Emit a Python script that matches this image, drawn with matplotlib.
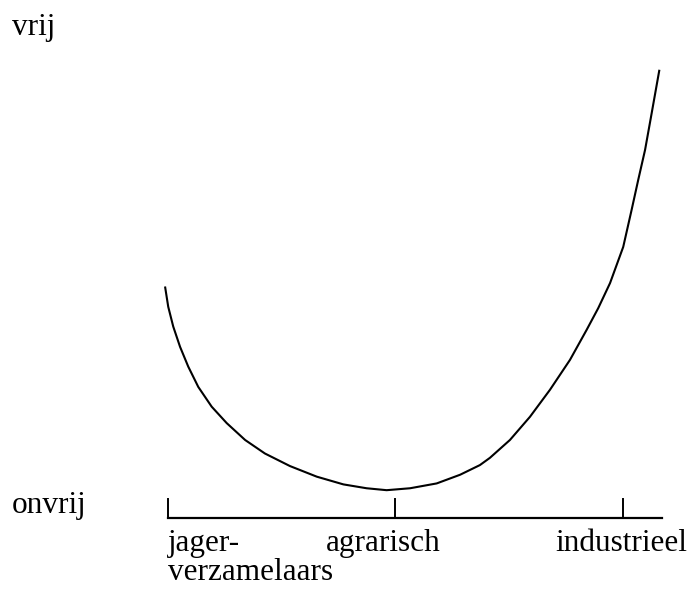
import matplotlib
matplotlib.use("Agg")
import matplotlib.pyplot as plt

# stages on the horizontal axis (0 = jager-verzamelaars, 1 = agrarisch, 2 = industrieel)
stage_pos = [0, 1, 2]
stage_labels = ["jager-\nverzamelaars", "agrarisch", "industrieel"]

# freedom curve (x in stage units, y: 0 = onvrij, 10 = vrij)
curve_x = [-0.013, 0.001, 0.023, 0.053, 0.089, 0.133, 0.192, 0.258, 0.339, 0.426,
           0.536, 0.654, 0.771, 0.873, 0.961, 1.064, 1.181, 1.284, 1.371, 1.415,
           1.503, 1.591, 1.679, 1.767, 1.840, 1.891, 1.943, 2.001, 2.038, 2.067,
           2.097, 2.126, 2.160]
curve_y = [4.79, 4.37, 3.96, 3.54, 3.13, 2.71, 2.30, 1.96, 1.61, 1.33,
           1.07, 0.85, 0.69, 0.61, 0.57, 0.61, 0.71, 0.89, 1.09, 1.24,
           1.61, 2.09, 2.65, 3.27, 3.89, 4.34, 4.86, 5.61, 6.38, 7.00,
           7.62, 8.38, 9.28]

plt.rcParams['font.family'] = ['Liberation Serif', 'DejaVu Serif']
fs = 22.5

fig = plt.figure(figsize=(6.95, 5.96), dpi=100)
ax = fig.add_axes([0, 0, 1, 1])
ax.set_xlim(-168 / 227.5, (695 - 168) / 227.5)
ax.set_ylim((517.7 - 596) / 48.27, 517.7 / 48.27)
ax.axis('off')

ax.plot(curve_x, curve_y, color='black', lw=1.5,
        solid_capstyle='butt', solid_joinstyle='round')

# axis line with ticks
ax.plot([0, 2.171], [0, 0], color='black', lw=1.6)
for p in stage_pos:
    ax.plot([p, p], [0, 0.387], color='black', lw=1.4)

ax.text(-0.686, 10.0, "vrij", fontsize=fs, va='baseline', ha='left')
ax.text(-0.686, 0.097, "onvrij", fontsize=fs, va='baseline', ha='left')

ax.text(0, -0.70, "jager-", fontsize=fs, va='baseline', ha='left')
ax.text(0, -1.29, "verzamelaars", fontsize=fs, va='baseline', ha='left')
ax.text(0.695, -0.70, stage_labels[1], fontsize=fs, va='baseline', ha='left')
ax.text(1.701, -0.70, stage_labels[2], fontsize=fs, va='baseline', ha='left')

fig.savefig("out.png", dpi=100)
